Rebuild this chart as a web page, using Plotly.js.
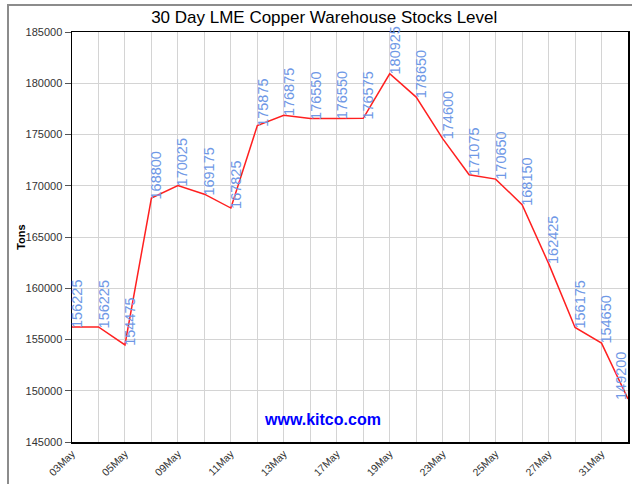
<!DOCTYPE html>
<html><head><meta charset="utf-8">
<script src="https://cdn.plot.ly/plotly-3.0.1.min.js"></script>
<style>
html,body{margin:0;padding:0;background:#fff;}
#wrap{position:relative;width:632px;height:484px;}
#chart{width:632px;height:484px;}
#frame{position:absolute;left:7px;top:4px;right:0;bottom:-10px;border-left:2px solid #8c8c8c;border-top:2px solid #8c8c8c;pointer-events:none;}
</style></head>
<body>
<div id="wrap"><div id="chart"></div><div id="frame"></div></div>
<script>
const dates = ["03May","04May","05May","06May","09May","10May","11May","12May","13May","16May","17May",
  "18May","19May","20May","23May","24May","25May","26May","27May","30May","31May","01Jun"];
const stocks = [156225,156225,154475,168800,170025,169175,167825,175875,176875,176550,176550,
  176575,180925,178650,174600,171075,170650,168150,162425,156175,154650,149200];
const shownTicks = ["03May","05May","09May","11May","13May","17May","19May","23May","25May","27May","31May"];
const yTicks = [145000,150000,155000,160000,165000,170000,175000,180000,185000];

const tickText = dates.map(d => shownTicks.includes(d) ? d : "");
const last = dates.length - 1;

const annotations = dates.map((d,i) => ({
  x: d, y: stocks[i], xref:'x', yref:'y',
  text: String(stocks[i]), textangle: -90, showarrow: false,
  xanchor: i === last ? 'right' : 'left', yanchor: 'bottom',
  xshift: i === last ? 2 : -4, yshift: -2, borderpad: 0,
  font: {family: 'Liberation Sans, Arial, sans-serif', size: 14.5, color: '#6f98e6'}
}));
annotations.push({
  xref:'paper', yref:'paper', x: 0.45, y: 0.054, xanchor:'center', yanchor:'middle', showarrow:false,
  text: '<b>www.kitco.com</b>',
  font: {family:'Liberation Sans, Arial, sans-serif', size: 16, color:'#0000ff'}
});
annotations.push({
  xref:'paper', yref:'paper', x: -0.092, y: 0.5, xanchor:'center', yanchor:'middle', showarrow:false, textangle:-90,
  text: '<b>Tons</b>',
  font: {family:'Liberation Sans, Arial, sans-serif', size: 11, color:'#000'}
});

const trace = {
  x: dates, y: stocks, type:'scatter', mode:'lines',
  line: {color:'#ff2020', width:1.5}, hoverinfo:'skip'
};

const layout = {
  width: 632, height: 484,
  margin: {l:72, r:4, t:32, b:42},
  paper_bgcolor:'#ffffff', plot_bgcolor:'#ffffff',
  showlegend:false,
  title: {text:'30 Day LME Copper Warehouse Stocks Level', x:0.513, xanchor:'center', y:0.965, yanchor:'middle',
    font:{family:'Liberation Sans, Arial, sans-serif', size:17, color:'#000'}},
  xaxis: {
    type:'category', range:[0, dates.length-1],
    tickmode:'array', tickvals: dates, ticktext: tickText,
    tickangle:-45, ticks:'', showgrid:true, gridcolor:'#d4d4d4', gridwidth:1,
    showline:true, linecolor:'#000', linewidth:1.5, mirror:true,
    tickfont:{family:'Liberation Sans, Arial, sans-serif', size:10.5, color:'#333'},
    zeroline:false
  },
  yaxis: {
    range:[145000,185000], tickmode:'array', tickvals:yTicks, ticktext:yTicks.map(String),
    ticks:'outside', ticklen:6, tickcolor:'#555', tickwidth:1,
    showgrid:true, gridcolor:'#d4d4d4', gridwidth:1,
    showline:true, linecolor:'#000', linewidth:1.5, mirror:true,
    tickfont:{family:'Liberation Sans, Arial, sans-serif', size:11, color:'#333'},
    zeroline:false
  },
  annotations: annotations
};

Plotly.newPlot('chart', [trace], layout, {displayModeBar:false, staticPlot:true});
</script>
</body></html>
